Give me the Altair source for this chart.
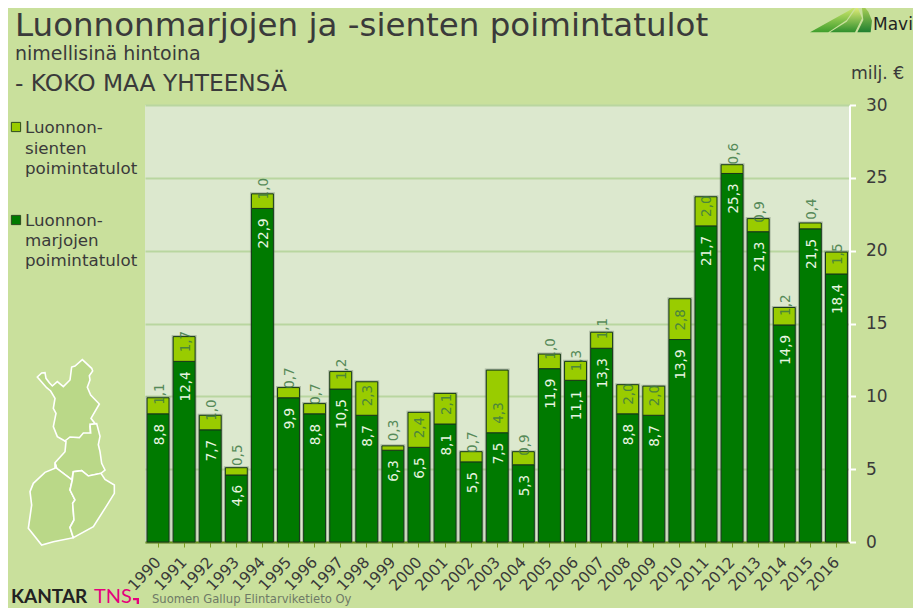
import altair as alt
import pandas as pd

years = list(range(1990, 2017))
marjat = [8.8, 12.4, 7.7, 4.6, 22.9, 9.9, 8.8, 10.5, 8.7, 6.3, 6.5, 8.1, 5.5, 7.5, 5.3, 11.9, 11.1, 13.3, 8.8, 8.7, 13.9, 21.7, 25.3, 21.3, 14.9, 21.5, 18.4]
sienet = [1.1, 1.7, 1.0, 0.5, 1.0, 0.7, 0.7, 1.2, 2.3, 0.3, 2.4, 2.1, 0.7, 4.3, 0.9, 1.0, 1.3, 1.1, 2.0, 2.0, 2.8, 2.0, 0.6, 0.9, 1.2, 0.4, 1.5]

# Outline vertices of the decorative map and logo, in their own pixel frames
lappi = [(52,66),(65,54),(75,53),(78,70),(88,83),(97,93),(112,80),(130,95),(150,75),(155,36),(165,33),(187,14),(215,40),(218,48),(208,62),(210,75),(202,97),(212,120),(238,147),(213,190),(230,212),(210,214),(212,240),(190,240),(178,252),(150,250),(135,258),(112,245),(100,215),(108,175),(100,160),(105,130),(92,108),(80,98)]
oulu = [(135,3),(150,-9),(178,-7),(190,-21),(212,-21),(210,-47),(230,-49),(240,-11),(235,14),(240,35),(245,70),(255,90),(243,100),(205,108),(185,92),(160,95),(155,120),(110,85),(105,68),(135,35),(138,5)]
lansi = [(105,70),(105,85),(75,97),(40,130),(30,155),(35,195),(25,265),(65,315),(100,305),(160,293),(150,262),(162,240),(158,190),(165,180),(150,150),(157,120),(110,85)]
ita = [(157,120),(160,95),(185,92),(205,108),(243,100),(255,118),(283,135),(283,160),(255,205),(220,260),(160,293),(150,262),(162,240),(158,190),(165,180),(150,150)]
blade_a = [(30,97),(100,58),(150,30),(168,18),(140,60),(85,97)]
blade_b = [(90,97),(140,65),(172,20),(186,55),(165,97)]
blade_c = [(176,0),(205,35),(216,62),(212,97),(172,97),(190,60),(186,25)]
tns_corner = [(0,0),(18,0),(18,18),(11,18),(11,7),(0,7)]

BG = "#C9E09C"
PLOT = "#DCE8CE"
INK = "#3A3A3A"
OX, OY = 145, 105      # page position of the plot area's corner
W, H = 704.5, 437

def path(points, sx=1/3, sy=1/3):
    return "M" + "L".join(f"{x*sx:.2f},{y*sy:.2f}" for x, y in points) + "Z"

df = pd.DataFrame({"year": [str(y) for y in years], "marjat": marjat, "sienet": sienet})
df["total"] = df.marjat + df.sienet
fmt = lambda v: f"{v:.1f}".replace(".", ",")
df["m_lab"] = df.marjat.map(fmt)
df["s_lab"] = df.sienet.map(fmt)

x = alt.X("year:N", title=None, sort=None,
          scale=alt.Scale(paddingInner=0.16, paddingOuter=0.08),
          axis=alt.Axis(labelAngle=-47, labelAlign="right", labelBaseline="middle", labelFontSize=15.5,
                        labelColor=INK, labelPadding=12, labelOverlap=False, tickSize=5, tickColor="#7FA020",
                        tickWidth=1, domainColor="#6E9A10", domainWidth=2, grid=False, labelFont="DejaVu Sans"))
y_axis = alt.Axis(orient="right", values=[0, 5, 10, 15, 20, 25, 30], labelFontSize=17, labelColor=INK,
                  labelPadding=10, tickSize=6, tickColor="white", tickWidth=2, domainColor="white",
                  domainWidth=2, grid=True, gridColor="#B9D6A0", gridWidth=2, labelFont="DejaVu Sans")
y_scale = alt.Scale(domain=[0, 30], nice=False)
yb = alt.Y("marjat:Q", title=None)
base = alt.Chart(df)

halo = base.mark_bar(color="#5A6A5A", opacity=0.35, stroke="#5A6A5A", strokeWidth=3).encode(
    x=x, y=alt.Y("total:Q", title=None, axis=y_axis, scale=y_scale))
berry = base.mark_bar(color="#007A00", stroke="#16381A", strokeWidth=1).encode(x=x, y=yb)
fungi = base.mark_bar(color="#99CC00", stroke="#16381A", strokeWidth=1).encode(x=x, y=yb, y2="total:Q")
m_text = base.mark_text(angle=270, align="right", baseline="middle", dx=-10, dy=1.5, fontSize=13.5,
                        color="#E8F5E0", font="DejaVu Sans").encode(x=x, y=yb, text="m_lab:N")
s_text = base.mark_text(angle=270, align="left", baseline="middle", dx=9, dy=1.5, fontSize=13.5,
                        color="#3F7A45", opacity=0.85, font="DejaVu Sans").encode(x=x, y=yb, text="s_lab:N")

def label(text, px, py, size, color=INK, align="left", font="DejaVu Sans", weight="normal"):
    return alt.Chart(pd.DataFrame({"t": [text]})).mark_text(
        align=align, baseline="middle", fontSize=size, color=color, font=font, fontWeight=weight
    ).encode(x=alt.value(px - OX), y=alt.value(py - OY), text="t:N")

def shape(points, px, py, fill, stroke=None, sw=0):
    kw = {"strokeWidth": sw, "stroke": stroke} if stroke else {"strokeWidth": 0}
    return alt.Chart(pd.DataFrame({"a": [0]})).mark_point(
        shape=path(points), size=4, filled=True, fill=fill, opacity=1, **kw
    ).encode(x=alt.value(px - OX), y=alt.value(py - OY))

def swatch(px, py, fill):
    return alt.Chart(pd.DataFrame({"a": [0]})).mark_point(
        shape="square", size=85, filled=True, fill=fill, stroke="#2E4A20", strokeWidth=1, opacity=1
    ).encode(x=alt.value(px - OX), y=alt.value(py - OY))

def fade(top, bottom):
    return alt.Gradient(gradient="linear", x1=0, y1=0, x2=0, y2=1,
                        stops=[alt.GradientStop(color=top, offset=0), alt.GradientStop(color=bottom, offset=1)])

notes = [
    label("Luonnonmarjojen ja -sienten poimintatulot", 15, 26, 32.5),
    label("nimellisinä hintoina", 15, 54, 19),
    label("- KOKO MAA YHTEENSÄ", 15, 84, 23.3),
    label("milj. €", 851, 74, 17.3),
    label("Luonnon-", 25, 128, 16.7), label("sienten", 25, 149, 16.7), label("poimintatulot", 25, 169, 16.7),
    label("Luonnon-", 25, 221, 16.7), label("marjojen", 25, 241, 16.7), label("poimintatulot", 25, 261, 16.7),
    label("Mavi", 873, 25, 17, color="#222222"),
    label("KANTAR", 11, 597, 19, color="#222222", font="Lato", weight="bold"),
    label("TNS", 94, 597, 20, color="#E5007D", font="Lato"),
    label("Suomen Gallup Elintarviketieto Oy", 152, 600, 11.6, color="#6E7A66"),
    swatch(16, 127, "#99CC00"), swatch(16, 220, "#007A00"),
]
maps = [shape(lappi, 20, 355, "#BAD888", "white", 1.6), shape(oulu, 20, 440, "#BAD888", "white", 1.6)] + \
       [shape(p, 20, 440, "#BAD888", "white", 1.6) for p in (lansi, ita)]
logo = [shape(blade_a, 800, 0, fade("#D8EC70", "#3E9E2C")),
        shape(blade_b, 800, 0, fade("#E8F07A", "#2E8F2C")),
        shape(blade_c, 800, 0, fade("#D0E660", "#1F7F30"))]
corner = [shape(tns_corner, 133, 598, "#E5007D")]

chart = alt.layer(halo, berry, fungi, m_text, s_text, *notes, *maps, *logo, *corner).properties(
    width=W, height=H,
    background=BG,
    padding={"left": 137, "top": 97, "right": 63.5, "bottom": 66},
    autosize=alt.AutoSizeParams(type="none"),
).configure_view(fill=PLOT, stroke=None)

chart.save("out.html", embed_options={"renderer": "svg", "actions": False})
